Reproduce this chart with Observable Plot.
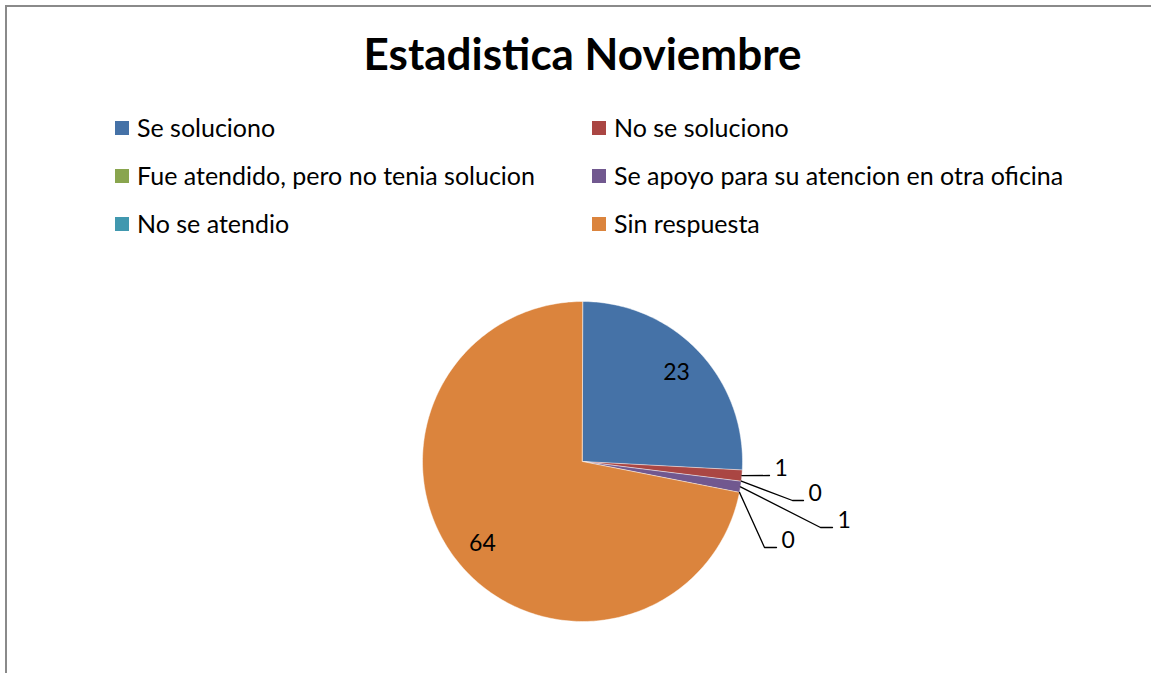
<!DOCTYPE html>
<html><head><meta charset="utf-8">
<script src="https://cdn.jsdelivr.net/npm/d3@7"></script>
<script src="https://cdn.jsdelivr.net/npm/@observablehq/plot@0.6"></script>
<style>
body{margin:0;width:1151px;height:673px;overflow:hidden;background:#fff;font-family:Lato,"Open Sans",sans-serif;position:relative}
#frame{position:absolute;left:5px;top:5px;width:1300px;height:800px;border-left:2px solid #8a8a8a;border-top:2px solid #8a8a8a}
#title{position:absolute;left:0;width:1165px;text-align:center;top:31px;font-size:44px;font-weight:bold;line-height:1;color:#000}
.item{position:absolute;font-size:25px;line-height:1;color:#000;white-space:nowrap}
.sw{position:absolute;width:14px;height:14px}
#chart{position:absolute;left:0;top:250px}
</style></head><body>
<div id="frame"></div>
<div id="title"></div>
<div id="legend"></div>
<div id="chart"></div>
<script>
// ---- data ----
const chartTitle = "Estadistica Noviembre";
const categories = ["Se soluciono","No se soluciono","Fue atendido, pero no tenia solucion","Se apoyo para su atencion en otra oficina","No se atendio","Sin respuesta"];
const values = [23, 1, 0, 1, 0, 64];
const colors = ["#4572A7","#AA4643","#89A54E","#71588F","#4198AF","#DB843D"];

// ---- layout (pixel units relative to pie centre, y up) ----
const W = 1151, H = 423;
const cx = 582, cyTop = 211;        // pie centre inside svg
const R = 160;
const insideLabelRadius = 0.81;
// manual leader-line layout for the small slices
const leaderLayout = [
  {name: "No se soluciono", elbow: null, end: [187, -14]},
  {name: "Fue atendido, pero no tenia solucion", elbow: [210, -39], end: [221, -39]},
  {name: "Se apoyo para su atencion en otra oficina", elbow: [238, -66], end: [250, -66]},
  {name: "No se atendio", elbow: [182, -86], end: [194, -86]}
];
const legendCols = [115, 592], legendRows = [128, 176, 224];

document.getElementById("title").textContent = chartTitle;
const leg = document.getElementById("legend");
categories.forEach((c, i) => {
  const col = legendCols[i % 2], row = legendRows[Math.floor(i / 2)];
  const sw = document.createElement("div");
  sw.className = "sw"; sw.style.left = col + "px"; sw.style.top = (row - 7) + "px"; sw.style.background = colors[i];
  const t = document.createElement("div");
  t.className = "item"; t.style.left = (col + 22) + "px"; t.style.top = (row - 13) + "px"; t.textContent = c;
  leg.appendChild(sw); leg.appendChild(t);
});

const pie = d3.pie().sort(null).value(d => d.value)(categories.map((name, i) => ({name, value: values[i]})));
const pol = (a, r) => [r * Math.sin(a), r * Math.cos(a)];

const wedges = [];
pie.forEach(p => {
  if (p.data.value <= 0) return;
  wedges.push({name: p.data.name, x: 0, y: 0});
  const n = Math.max(2, Math.ceil((p.endAngle - p.startAngle) * 180 / Math.PI));
  for (let k = 0; k <= n; k++) {
    const a = p.startAngle + (p.endAngle - p.startAngle) * k / n;
    const [x, y] = pol(a, R);
    wedges.push({name: p.data.name, x, y});
  }
});

const insideLabels = pie.filter(p => !leaderLayout.find(l => l.name === p.data.name)).map(p => {
  const [x, y] = pol((p.startAngle + p.endAngle) / 2, R * insideLabelRadius);
  return {x, y, text: String(p.data.value)};
});

const leaders = [], outsideLabels = [];
leaderLayout.forEach(l => {
  const p = pie.find(q => q.data.name === l.name);
  const [sx, sy] = pol((p.startAngle + p.endAngle) / 2, R);
  leaders.push({name: l.name, x: sx, y: sy});
  if (l.elbow) leaders.push({name: l.name, x: l.elbow[0], y: l.elbow[1]});
  leaders.push({name: l.name, x: l.end[0], y: l.end[1]});
  outsideLabels.push({x: l.end[0] + 5, y: l.end[1] + 7, text: String(p.data.value)});
});

const chart = Plot.plot({
  width: W, height: H, margin: 0,
  style: {background: "transparent", overflow: "visible"},
  x: {domain: [-cx, W - cx], axis: null},
  y: {domain: [cyTop - H, cyTop], axis: null},
  color: {domain: categories, range: colors},
  marks: [
    Plot.line(wedges, {x: "x", y: "y", z: "name", fill: "name", stroke: "#fff", strokeWidth: 0.8, strokeOpacity: 0.6, curve: "linear-closed"}),
    Plot.line(leaders, {x: "x", y: "y", z: "name", stroke: "#000", strokeWidth: 1.3}),
    Plot.text(insideLabels, {x: "x", y: "y", text: "text", fontSize: 23, fontFamily: "Lato", fill: "#000"}),
    Plot.text(outsideLabels, {x: "x", y: "y", text: "text", textAnchor: "start", fontSize: 23, fontFamily: "Lato", fill: "#000"})
  ]
});
document.getElementById("chart").appendChild(chart);
</script>
</body></html>
